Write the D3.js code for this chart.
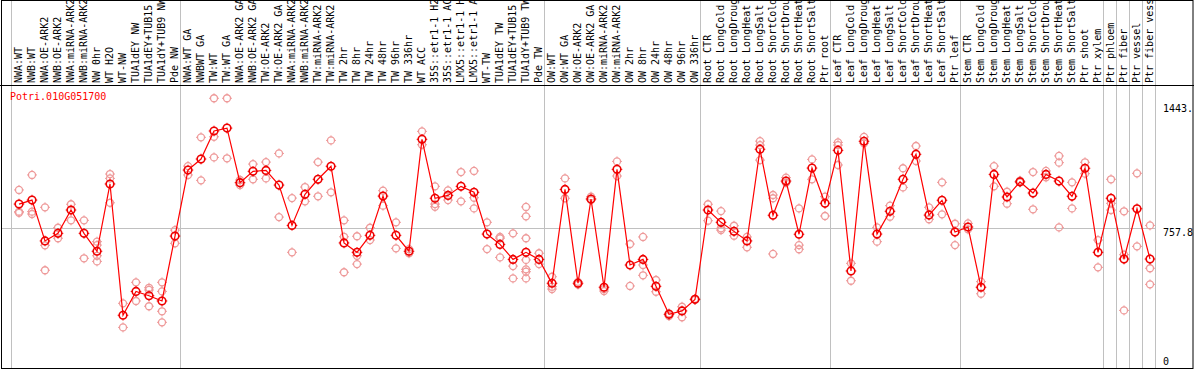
<!DOCTYPE html>
<html>
<head>
<meta charset="utf-8">
<script src="https://cdn.jsdelivr.net/npm/d3@7"></script>
<style>
body { margin: 0; background: #fff; }
text { font-family: "DejaVu Sans Mono", monospace; font-size: 10px; }
</style>
</head>
<body>
<script>
var gene = "Potri.010G051700"

var samples = ["NWA:WT","NWB:WT","NWA:OE-ARK2","NWB:OE-ARK2","NWA:miRNA-ARK2","NWB:miRNA-ARK2","NW 0hr","WT H2O","WT-NW","TUA1dEY NW","TUA1dEY+TUB15","TUA1dY+TUB9 NW","Pde NW",
  "NWA:WT GA","NWBWT GA","TW:WT","TW:WT GA","NWA:OE-ARK2 GA","NWB:OE-ARK2 GA","TW:OE-ARK2","TW:OE-ARK2 GA","NWA:miRNA-ARK2","NWB:miRNA-ARK2","TW:miRNA-ARK2","TW:miRNA-ARK2",
  "TW 2hr","TW 8hr","TW 24hr","TW 48hr","TW 96hr","TW 336hr","WT ACC","35S::etr1-1 H2","35S::etr1-1 AC","LMX5::etr1-1 H","LMX5::etr1-1 A","WT-TW","TUA1dEY TW","TUA1dEY+TUB15","TUA1dY+TUB9 TW","Pde TW",
  "OW:WT","OW:WT GA","OW:OE-ARK2","OW:OE-ARK2 GA","OW:miRNA-ARK2","OW:miRNA-ARK2","OW 2hr","OW 8hr","OW 24hr","OW 48hr","OW 96hr","OW 336hr",
  "Root CTR","Root LongCold","Root LongDroug","Root LongHeat","Root LongSalt","Root ShortCold","Root ShortDrou","Root ShortHeat","Root ShortSalt","Ptr root",
  "Leaf CTR","Leaf LongCold","Leaf LongDroug","Leaf LongHeat","Leaf LongSalt","Leaf ShortCold","Leaf ShortDrou","Leaf ShortHeat","Leaf ShortSalt","Ptr leaf",
  "Stem CTR","Stem LongCold","Stem LongDroug","Stem LongHeat","Stem LongSalt","Stem ShortCold","Stem ShortDrou","Stem ShortHeat","Stem ShortSalt","Ptr shoot","Ptr xylem",
  "Ptr phloem","Ptr fiber","Ptr vessel","Ptr fiber vess"]

var means = [890,912,686,728,857,728,629,1001,275,407,383,354,713,
  1078,1139,1294,1310,1008,1071,1076,995,772,944,1027,1099,675,623,717,934,717,629,1248,922,938,988,955,724,667,584,623,584,
  452,971,452,918,430,1082,553,584,435,280,299,363,
  857,789,739,686,1193,828,1017,723,1089,894,
  1187,520,1237,724,850,1027,1165,829,911,735,
  763,430,1054,929,1013,951,1054,1017,933,1088,623,
  922,586,864,586]

var replicates = [[968,848,842],[1051,848,835],[872,662,524],[759,701],[889,800],[800,590],[682,663,604,573],[1056,1032,897],[341,208],[457,354],[427,415,325],[457,407,297,236],[746,673],
  [1100,1051],[1259,1021],[1475,1262,1148],[1475,1143],[1023,995],[1111,1027],[1122,1032],[1170,818],[923,623],[984,905],[1122,933],[1242,955],[800,709,513],[712,604,558],[759,691],[964,881],[789,645],[641,618],[1292,1218],[988,890,875],[966,912],[1067,905],[1073,925,866],[789,641],[708,701,595],[728,547,479],[874,822,701,581,529,516,479],[618,558],
  [488,433,420],[1032,922],[445,460],[931,912],[420,409],[1126,1045],[669,437],[708,553,496],[470,405],[286,271],[322,264],[360,366],
  [889,798],[851,756,746],[770,715],[708,651],[1238,1216,1133],[940,922,614],[1036,1008],[866,663,640],[1137,1027],[931,824],
  [1231,1216,1106],[562,466],[1261,1226],[761,682],[881,820],[1088,982],[1211,1128],[872,806],[1010,833],[781,663],
  [783,750],[461,394],[1100,988],[958,892],[1019,1010],[1067,861],[1073,1038],[1156,1119,761],[1010,866],[1121,1058],[691,540],
  [1027,894,857],[850,610,302],[1060,656],[772,535,446]]

// where a new group starts (grey separators)
var groupStarts = [0,13,41,53,63,73,84,85,86,87,88]
var yTicks = [1443.3, 757.8, 0]
var yTickText = ["1443.", "757.8", "0"]

var width = 1194
var height = 370
var top_plot = 85
var bottom_plot = 368

var svg = d3.select("body").append("svg")
  .attr("width", width)
  .attr("height", height)

var x = d3.scaleBand()
  .domain(d3.range(samples.length + 1))
  .range([11.5, 11.5 + 13 * (samples.length + 1)])
  .paddingInner(0).paddingOuter(0)

var y = d3.scaleLinear()
  .domain([0, 1443.3])
  .range([365, 104])

function cx(i) { return x(i) + 7.5 }

// grey group separators
svg.selectAll(".sep")
  .data(groupStarts)
  .enter()
  .append("line")
  .attr("x1", function (d) { return x(d) })
  .attr("x2", function (d) { return x(d) })
  .attr("y1", 0)
  .attr("y2", bottom_plot)
  .attr("stroke", "#c0c0c0")
  .attr("stroke-width", 1)

// mid line
svg.append("line")
  .attr("x1", 2).attr("x2", x(88))
  .attr("y1", Math.round(y(757.8)) + 0.5).attr("y2", Math.round(y(757.8)) + 0.5)
  .attr("stroke", "#c0c0c0")

// frame
svg.append("rect")
  .attr("x", 1.5).attr("y", 0.5)
  .attr("width", width - 2.5).attr("height", bottom_plot)
  .attr("fill", "none").attr("stroke", "#000")
svg.append("line")
  .attr("x1", 0).attr("x2", width)
  .attr("y1", top_plot + 0.5).attr("y2", top_plot + 0.5)
  .attr("stroke", "#000")

// sample labels, vertical
svg.selectAll(".lab")
  .data(samples)
  .enter()
  .append("text")
  .attr("transform", function (d, i) { return "translate(" + (x(i) + 10) + "," + 83 + ") rotate(-90)" })
  .attr("fill", "#000")
  .text(function (d) { return d })

// right axis labels
svg.selectAll(".ytick")
  .data(yTicks)
  .enter()
  .append("text")
  .attr("x", 1163)
  .attr("y", function (d, i) { return i == 2 ? y(d) : y(d) + 8 })
  .attr("fill", "#000")
  .text(function (d, i) { return yTickText[i] })

// title
svg.append("text")
  .attr("x", 10).attr("y", 100)
  .attr("fill", "#ff0000")
  .text(gene)

function marker(g, px, py, r, col, sw) {
  g.append("circle")
    .attr("cx", px).attr("cy", py).attr("r", r)
    .attr("fill", "none").attr("stroke", col).attr("stroke-width", sw)
  var ticks = [[0, -1], [0, 1], [-1, 0], [1, 0]]
  ticks.forEach(function (t) {
    g.append("line")
      .attr("x1", px + t[0] * (r - 0.5)).attr("y1", py + t[1] * (r - 0.5))
      .attr("x2", px + t[0] * (r + 1.5)).attr("y2", py + t[1] * (r + 1.5))
      .attr("stroke", col).attr("stroke-width", 1)
  })
}

// replicate circles
var repG = svg.append("g")
replicates.forEach(function (reps, i) {
  reps.forEach(function (v) {
    marker(repG, cx(i), y(v), 3.5, "#ee9a9a", 1.3)
  })
})

// mean line
var line = d3.line()
  .x(function (d, i) { return cx(i) })
  .y(function (d) { return y(d) })
svg.append("path")
  .datum(means)
  .attr("d", line)
  .attr("fill", "none")
  .attr("stroke", "#ff0000")
  .attr("stroke-width", 1.2)

var meanG = svg.append("g")
means.forEach(function (v, i) {
  marker(meanG, cx(i), y(v), 3.8, "#ee0000", 1.6)
})
</script>
</body>
</html>
